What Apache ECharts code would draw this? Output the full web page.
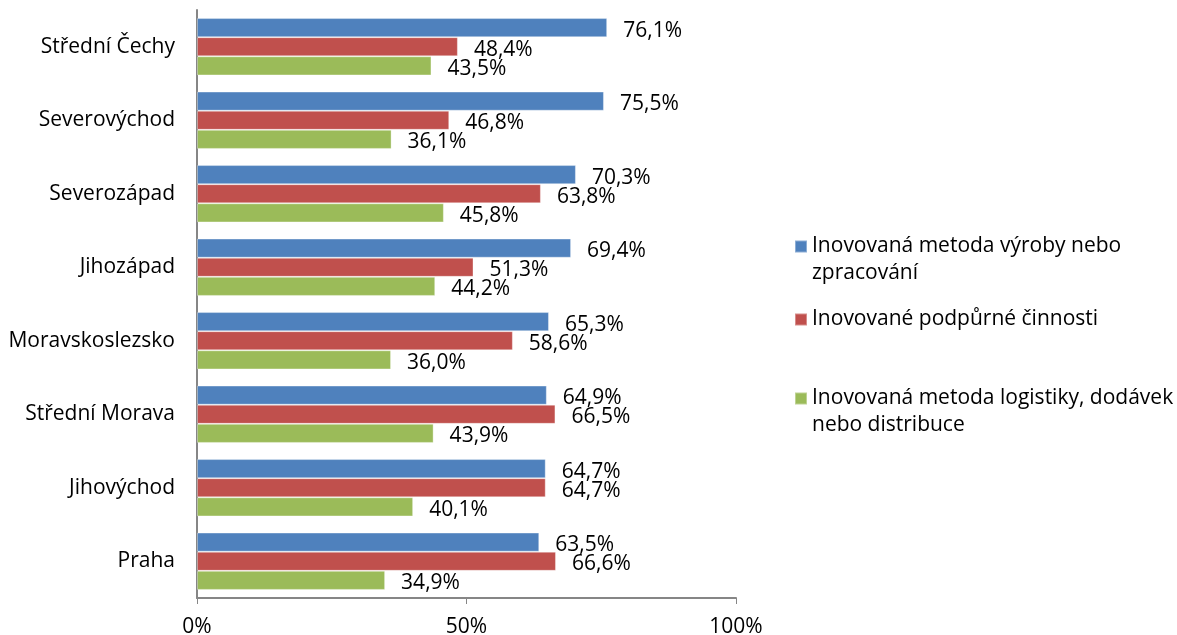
<!DOCTYPE html>
<html>
<head>
<meta charset="utf-8">
<script src="https://cdn.jsdelivr.net/npm/echarts@6/dist/echarts.min.js"></script>
<style>html,body{margin:0;padding:0;background:#fff;}#c{width:1177px;height:635px;}</style>
</head>
<body>
<div id="c"></div>
<script>
const categories = ['Střední Čechy','Severovýchod','Severozápad','Jihozápad','Moravskoslezsko','Střední Morava','Jihovýchod','Praha'];
const seriesNames = ['Inovovaná metoda výroby nebo zpracování','Inovované podpůrné činnosti','Inovovaná metoda logistiky, dodávek nebo distribuce'];
const legendLabels = ['Inovovaná metoda výroby nebo\nzpracování','Inovované podpůrné činnosti','Inovovaná metoda logistiky, dodávek\nnebo distribuce'];
const valuesVyroba = [76.1,75.5,70.3,69.4,65.3,64.9,64.7,63.5];
const valuesPodpurne = [48.4,46.8,63.8,51.3,58.6,66.5,64.7,66.6];
const valuesLogistika = [43.5,36.1,45.8,44.2,36.0,43.9,40.1,34.9];
const xTicks = [0,50,100];

const colors = ['#4F81BD','#C0504D','#9BBB59'];
const font = '"Open Sans", sans-serif';
const fs = 21;
const chart = echarts.init(document.getElementById('c'));
const data = [valuesVyroba, valuesPodpurne, valuesLogistika];
const legendTops = [228, 301, 380];
chart.setOption({
  animation: false,
  color: colors,
  grid: {left:197, right:441, top:10, bottom:37, containLabel:false, outerBoundsMode:'none'},
  legend: seriesNames.map((n,i)=>{
    const twoLine = legendLabels[i].indexOf('\n') >= 0;
    return {
      data:[n], orient:'vertical', left:789, top:legendTops[i],
      itemWidth:12, itemHeight: twoLine ? 39 : 12, itemGap:6,
      icon: twoLine ? 'path://M0,0L12,0L12,12L0,12Z M0,39' : 'rect',
      formatter: () => legendLabels[i],
      textStyle:{fontFamily:font, fontSize:fs, color:'#000', lineHeight:27}
    };
  }),
  xAxis: {
    type:'value', min:0, max:100, interval:50,
    axisLine:{show:true, lineStyle:{color:'#868686', width:2}},
    axisTick:{show:true, length:6, lineStyle:{color:'#868686', width:1}},
    splitLine:{show:false},
    axisLabel:{formatter: v => v + '%', margin:19, fontFamily:font, fontSize:fs, color:'#000'}
  },
  yAxis: {
    type:'category', data:categories, inverse:true,
    axisLine:{show:true, lineStyle:{color:'#868686', width:2}},
    axisTick:{show:false},
    axisLabel:{margin:22, fontFamily:font, fontSize:fs, color:'#000'}
  },
  series: seriesNames.map((n,i)=>({
    name:n, type:'bar', data:data[i],
    barGap:'0%', barCategoryGap:'22%',
    itemStyle:{color:colors[i], borderColor:'rgba(255,255,255,0.35)', borderWidth:1},
    label:{show:true, position:'right', distance:16, offset:[0,3],
      formatter: p => p.value.toFixed(1).replace('.',',') + '%',
      fontFamily:font, fontSize:fs, color:'#000'}
  }))
});
</script>
</body>
</html>
